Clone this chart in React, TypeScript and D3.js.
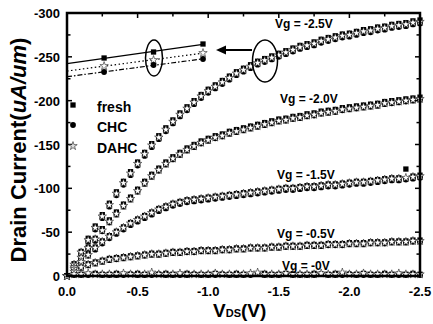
import { useRef, useEffect } from 'react'
import * as d3 from 'd3'

// drain voltage sweep (V)
const vds = [
  0, -0.05, -0.1, -0.15, -0.2, -0.25, -0.3, -0.35, -0.4, -0.45,
  -0.5, -0.55, -0.6, -0.65, -0.7, -0.75, -0.8, -0.85, -0.9, -0.95,
  -1.0, -1.05, -1.1, -1.15, -1.2, -1.25, -1.3, -1.35, -1.4, -1.45,
  -1.5, -1.55, -1.6, -1.65, -1.7, -1.75, -1.8, -1.85, -1.9, -1.95,
  -2.0, -2.05, -2.1, -2.15, -2.2, -2.25, -2.3, -2.35, -2.4, -2.45,
  -2.5,
]

// drain current (uA/um), Vg = -2.5V
const fresh25 = [
  0, -14, -28, -43, -57, -70, -83, -96, -108, -119,
  -130, -141, -151, -160, -169, -178, -186, -193, -200, -207,
  -213, -218, -223, -228, -233, -237, -241, -245, -248, -251,
  -254, -257, -260, -263, -265, -267, -270, -272, -274, -276,
  -277, -279, -281, -282, -284, -285, -287, -288, -289, -291,
  -292,
]
const chc25 = [
  0, -12, -25, -39, -53, -66, -79, -92, -104, -115,
  -126, -137, -147, -156, -165, -174, -182, -189, -196, -203,
  -209, -214, -219, -224, -229, -233, -237, -241, -244, -247,
  -250, -253, -256, -259, -261, -263, -266, -268, -270, -272,
  -273, -275, -277, -278, -280, -281, -283, -284, -285, -287,
  -288,
]
const dahc25 = [
  0, -13, -27, -41, -55, -68, -81, -94, -106, -117,
  -128, -139, -149, -158, -167, -176, -184, -191, -198, -205,
  -211, -216, -221, -226, -231, -235, -239, -243, -246, -249,
  -252, -255, -258, -261, -263, -265, -268, -270, -272, -274,
  -275, -277, -279, -280, -282, -283, -285, -286, -287, -289,
  -290,
]

// Vg = -2.0V
const fresh20 = [
  0, -11, -22, -33, -43, -54, -64, -73, -82, -90,
  -99, -108, -116, -123, -130, -136, -141, -146, -150, -154,
  -157, -160, -162, -165, -167, -169, -171, -173, -175, -177,
  -179, -180, -182, -183, -185, -186, -188, -189, -190, -192,
  -193, -194, -195, -196, -197, -199, -200, -201, -202, -203,
  -204,
]
const chc20 = [
  0, -9, -19, -30, -40, -51, -61, -70, -79, -87,
  -96, -105, -113, -120, -127, -133, -138, -143, -147, -151,
  -154, -157, -159, -162, -164, -166, -168, -170, -172, -174,
  -176, -177, -179, -180, -182, -183, -185, -186, -187, -189,
  -190, -191, -192, -193, -194, -196, -197, -198, -199, -200,
  -201,
]
const dahc20 = [
  0, -10, -21, -32, -42, -52, -62, -71, -80, -88,
  -97, -106, -114, -121, -128, -134, -139, -144, -148, -152,
  -155, -158, -160, -163, -165, -167, -169, -171, -173, -175,
  -177, -178, -180, -181, -183, -184, -186, -187, -188, -190,
  -191, -192, -193, -194, -195, -197, -198, -199, -200, -201,
  -202,
]

// Vg = -1.5V
const fresh15 = [
  0, -9, -17, -25, -33, -40, -46, -51, -56, -61,
  -65, -69, -73, -77, -80, -83, -85, -87, -88, -89,
  -90, -91, -92, -93, -94, -95, -96, -97, -98, -99,
  -100, -101, -101, -102, -103, -103, -104, -105, -105, -106,
  -107, -108, -108, -109, -110, -111, -112, -112, -122, -114,
  -115,
]
const chc15 = [
  0, -7, -15, -23, -30, -37, -43, -48, -53, -58,
  -62, -66, -70, -74, -77, -80, -82, -84, -85, -86,
  -87, -88, -89, -90, -91, -92, -93, -94, -95, -96,
  -97, -98, -98, -99, -100, -100, -101, -102, -102, -103,
  -104, -105, -105, -106, -107, -108, -109, -109, -110, -111,
  -112,
]
const dahc15 = [
  0, -8, -16, -24, -32, -39, -45, -50, -55, -60,
  -64, -68, -72, -76, -79, -82, -84, -86, -87, -88,
  -89, -90, -91, -92, -93, -94, -95, -96, -97, -98,
  -99, -100, -100, -101, -102, -102, -103, -104, -104, -105,
  -106, -107, -107, -108, -109, -110, -111, -111, -112, -113,
  -114,
]

// Vg = -0.5V
const fresh05 = [
  0, -6, -11, -14, -16, -18, -20, -21, -22, -23,
  -24, -25, -26, -26, -27, -28, -28, -29, -29, -30,
  -30, -30, -31, -31, -32, -32, -33, -33, -33, -34,
  -34, -35, -35, -35, -36, -36, -36, -37, -37, -37,
  -38, -38, -38, -39, -39, -39, -40, -40, -40, -41,
  -41,
]
const chc05 = [
  0, -4, -9, -12, -14, -16, -18, -19, -20, -21,
  -22, -23, -24, -24, -25, -26, -26, -27, -27, -28,
  -28, -28, -29, -29, -30, -30, -31, -31, -31, -32,
  -32, -33, -33, -33, -34, -34, -34, -35, -35, -35,
  -36, -36, -36, -37, -37, -37, -38, -38, -38, -39,
  -39,
]
const dahc05 = [
  0, -5, -10, -13, -15, -17, -19, -20, -21, -22,
  -23, -24, -25, -25, -26, -27, -27, -28, -28, -29,
  -29, -29, -30, -30, -31, -31, -32, -32, -32, -33,
  -33, -34, -34, -34, -35, -35, -35, -36, -36, -36,
  -37, -37, -37, -38, -38, -38, -39, -39, -39, -40,
  -40,
]

// Vg = -0V
const fresh00 = [
  0, -3, -2, -2, -3, -2, -2, -3, -2, -2,
  -3, -2, -2, -2, -3, -2, -2, -3, -2, -2,
  -2, -3, -2, -2, -3, -2, -2, -2, -3, -2,
  -2, -3, -2, -2, -2, -3, -2, -2, -3, -2,
  -2, -2, -3, -2, -2, -3, -2, -2, -2, -3,
  -2,
]
const chc00 = [
  0, -1, -1, -1, -2, -1, -1, -1, -1, -2,
  -1, -1, -1, -2, -1, -1, -1, -1, -2, -1,
  -1, -1, -2, -1, -1, -1, -1, -2, -1, -1,
  -1, -2, -1, -1, -1, -1, -2, -1, -1, -1,
  -2, -1, -1, -1, -1, -2, -1, -1, -1, -2,
  -1,
]
const dahc00 = [
  0, -2, -2, -3, -2, -2, -2, -2, -3, -2,
  -2, -2, -4, -2, -2, -2, -3, -2, -2, -2,
  -2, -3, -2, -2, -2, -2, -3, -4, -2, -2,
  -2, -3, -2, -2, -2, -2, -3, -2, -2, -4,
  -2, -2, -3, -2, -2, -2, -2, -3, -2, -2,
  -2,
]

const freshSets = [fresh25, fresh20, fresh15, fresh05, fresh00]
const chcSets = [chc25, chc20, chc15, chc05, chc00]
const dahcSets = [dahc25, dahc20, dahc15, dahc05, dahc00]
const gateLabels = ['Vg = -2.5V', 'Vg = -2.0V', 'Vg = -1.5V', 'Vg = -0.5V', 'Vg = -0V']

// zoomed inset around Vds ~ -1.4V, Vg = -2.5V
const insetVds = [-1.3, -1.4, -1.5]
const insetFresh = [-251, -254, -258]
const insetDahc = [-247, -250, -253.5]
const insetChc = [-244, -247.5, -250.5]

const xTicks = [0, -0.5, -1.0, -1.5, -2.0, -2.5]
const yTicks = [0, -50, -100, -150, -200, -250, -300]

const FONT = "'Liberation Sans', Arial, Helvetica, sans-serif"

export default function App() {
  const svgRef = useRef<SVGSVGElement>(null)

  useEffect(() => {
    if (!svgRef.current) return
    const svg = d3.select(svgRef.current)
    svg.selectAll('*').remove()

    const left = 67, right = 420, top = 13, bottom = 276

    const x = d3.scaleLinear().domain([0, -2.5]).range([left, right])
    const y = d3.scaleLinear().domain([0, -300]).range([bottom, top])

    svg.append('rect').attr('width', 433).attr('height', 324).attr('fill', '#fff')

    // ticks, all pointing inward
    const minorX = d3.range(0, 11).map(i => -i * 0.25)
    const minorY = d3.range(0, 13).map(i => -i * 25)
    const tickG = svg.append('g').attr('stroke', '#000').attr('stroke-width', 1.5)
    minorX.forEach((v, i) => {
      const len = i % 2 === 0 ? 5 : 3.5
      tickG.append('line').attr('x1', x(v)).attr('x2', x(v)).attr('y1', bottom).attr('y2', bottom - len)
      tickG.append('line').attr('x1', x(v)).attr('x2', x(v)).attr('y1', top).attr('y2', top + len)
    })
    minorY.forEach((v, i) => {
      const len = i % 2 === 0 ? 5 : 3.5
      tickG.append('line').attr('x1', left).attr('x2', left + len).attr('y1', y(v)).attr('y2', y(v))
      tickG.append('line').attr('x1', right).attr('x2', right - len).attr('y1', y(v)).attr('y2', y(v))
    })

    // tick labels
    svg.append('g')
      .selectAll('text')
      .data(xTicks)
      .join('text')
      .attr('x', d => x(d))
      .attr('y', 296)
      .attr('text-anchor', 'middle')
      .attr('font-family', FONT)
      .attr('font-weight', 'bold')
      .attr('font-size', 13)
      .text(d => d.toFixed(1))

    svg.append('g')
      .selectAll('text')
      .data(yTicks)
      .join('text')
      .attr('x', 60)
      .attr('y', d => y(d) + 5)
      .attr('text-anchor', 'end')
      .attr('font-family', FONT)
      .attr('font-weight', 'bold')
      .attr('font-size', 13)
      .text(d => String(d))

    // data markers
    const sq = d3.symbol().type(d3.symbolSquare).size(28)()
    const ci = d3.symbol().type(d3.symbolCircle).size(26)()
    const st = d3.symbol().type(d3.symbolStar).size(22)()

    const marks = svg.append('g')
    freshSets.forEach(set => {
      marks.append('g').selectAll('path').data(set).join('path')
        .attr('d', sq)
        .attr('transform', (d, i) => `translate(${x(vds[i])},${y(d)})`)
        .attr('fill', '#000')
    })
    chcSets.forEach(set => {
      marks.append('g').selectAll('path').data(set).join('path')
        .attr('d', ci)
        .attr('transform', (d, i) => `translate(${x(vds[i])},${y(d)})`)
        .attr('fill', '#000')
    })
    dahcSets.forEach(set => {
      marks.append('g').selectAll('path').data(set).join('path')
        .attr('d', st)
        .attr('transform', (d, i) => `translate(${x(vds[i])},${y(d)})`)
        .attr('fill', '#fff')
        .attr('stroke', '#222')
        .attr('stroke-width', 0.6)
    })

    // frame
    svg.append('rect')
      .attr('x', left).attr('y', top)
      .attr('width', right - left).attr('height', bottom - top)
      .attr('fill', 'none').attr('stroke', '#000').attr('stroke-width', 2.5)

    // gate voltage labels
    const labelPos = [[275, 28], [280, 103], [277, 179], [277, 238], [282, 270]]
    gateLabels.forEach((t, i) => {
      svg.append('text')
        .attr('x', labelPos[i][0]).attr('y', labelPos[i][1])
        .attr('font-family', FONT).attr('font-weight', 'bold').attr('font-size', 12)
        .text(t)
    })

    // inset
    const ix = d3.scaleLinear().domain([-1.225, -1.5]).range([67, 203])
    const iy = d3.scaleLinear().domain([-240, -260]).range([80, 40])
    const fit = (vals: number[]) => {
      const mx = d3.mean(insetVds)!, my = d3.mean(vals)!
      const sxy = d3.sum(insetVds, (v, i) => (v - mx) * (vals[i] - my))
      const sxx = d3.sum(insetVds, v => (v - mx) ** 2)
      const b = sxy / sxx
      return (v: number) => my + b * (v - mx)
    }
    const ends = [-1.225, -1.5]
    const insetSeries = [
      { vals: insetFresh, dash: null, shape: sq, fill: '#000' },
      { vals: insetDahc, dash: '1.5,2.5', shape: st, fill: '#fff' },
      { vals: insetChc, dash: '5,2,1.5,2', shape: ci, fill: '#000' },
    ]
    insetSeries.forEach(s => {
      const f = fit(s.vals)
      const line = d3.line<number>().x(v => ix(v)).y(v => iy(f(v)))
      svg.append('path')
        .attr('d', line(ends))
        .attr('fill', 'none').attr('stroke', '#000').attr('stroke-width', 1.2)
        .attr('stroke-dasharray', s.dash)
    })
    insetSeries.forEach(s => {
      svg.append('g').selectAll('path').data(s.vals).join('path')
        .attr('d', s.shape)
        .attr('transform', (d, i) => `translate(${ix(insetVds[i])},${iy(d)})`)
        .attr('fill', s.fill)
        .attr('stroke', s.fill === '#fff' ? '#222' : 'none')
        .attr('stroke-width', 0.6)
    })
    svg.append('ellipse').attr('cx', 154).attr('cy', 58).attr('rx', 8.5).attr('ry', 18)
      .attr('fill', 'none').attr('stroke', '#000').attr('stroke-width', 1.5)

    // highlight ellipse on main curve + arrow to inset
    svg.append('ellipse').attr('cx', 265).attr('cy', 61).attr('rx', 12.5).attr('ry', 21)
      .attr('fill', 'none').attr('stroke', '#000').attr('stroke-width', 1.5)
    svg.append('line').attr('x1', 252).attr('x2', 224).attr('y1', 50).attr('y2', 50)
      .attr('stroke', '#000').attr('stroke-width', 2)
    svg.append('path').attr('d', 'M216,50L226,45.5L226,54.5Z').attr('fill', '#000')

    // legend
    const legend = [
      { label: 'fresh', shape: sq, fill: '#000', yy: 105 },
      { label: 'CHC', shape: ci, fill: '#000', yy: 125 },
      { label: 'DAHC', shape: st, fill: '#ddd', yy: 146 },
    ]
    legend.forEach(l => {
      svg.append('path').attr('d', l.shape).attr('transform', `translate(73,${l.yy})`)
        .attr('fill', l.fill).attr('stroke', l.fill === '#000' ? 'none' : '#222').attr('stroke-width', 0.6)
      svg.append('text').attr('x', 97).attr('y', l.yy + 7)
        .attr('font-family', FONT).attr('font-weight', 'bold').attr('font-size', 14)
        .text(l.label)
    })

    // axis titles
    const xt = svg.append('text').attr('x', 213).attr('y', 317)
      .attr('font-family', FONT).attr('font-weight', 'bold')
    xt.append('tspan').attr('font-size', 19).text('V')
    xt.append('tspan').attr('font-size', 11).text('DS')
    xt.append('tspan').attr('font-size', 19).text('(V)')

    const yt = svg.append('text')
      .attr('transform', 'translate(26,150) rotate(-90)')
      .attr('text-anchor', 'middle')
      .attr('font-family', FONT).attr('font-weight', 'bold').attr('font-size', 22)
    yt.append('tspan').text('Drain Current(')
    yt.append('tspan').attr('font-style', 'italic').text('uA/um')
    yt.append('tspan').text(')')
  }, [])

  return (
    <svg
      ref={svgRef}
      width={433}
      height={324}
      style={{ position: 'absolute', left: 0, top: 0, display: 'block' }}
    />
  )
}
